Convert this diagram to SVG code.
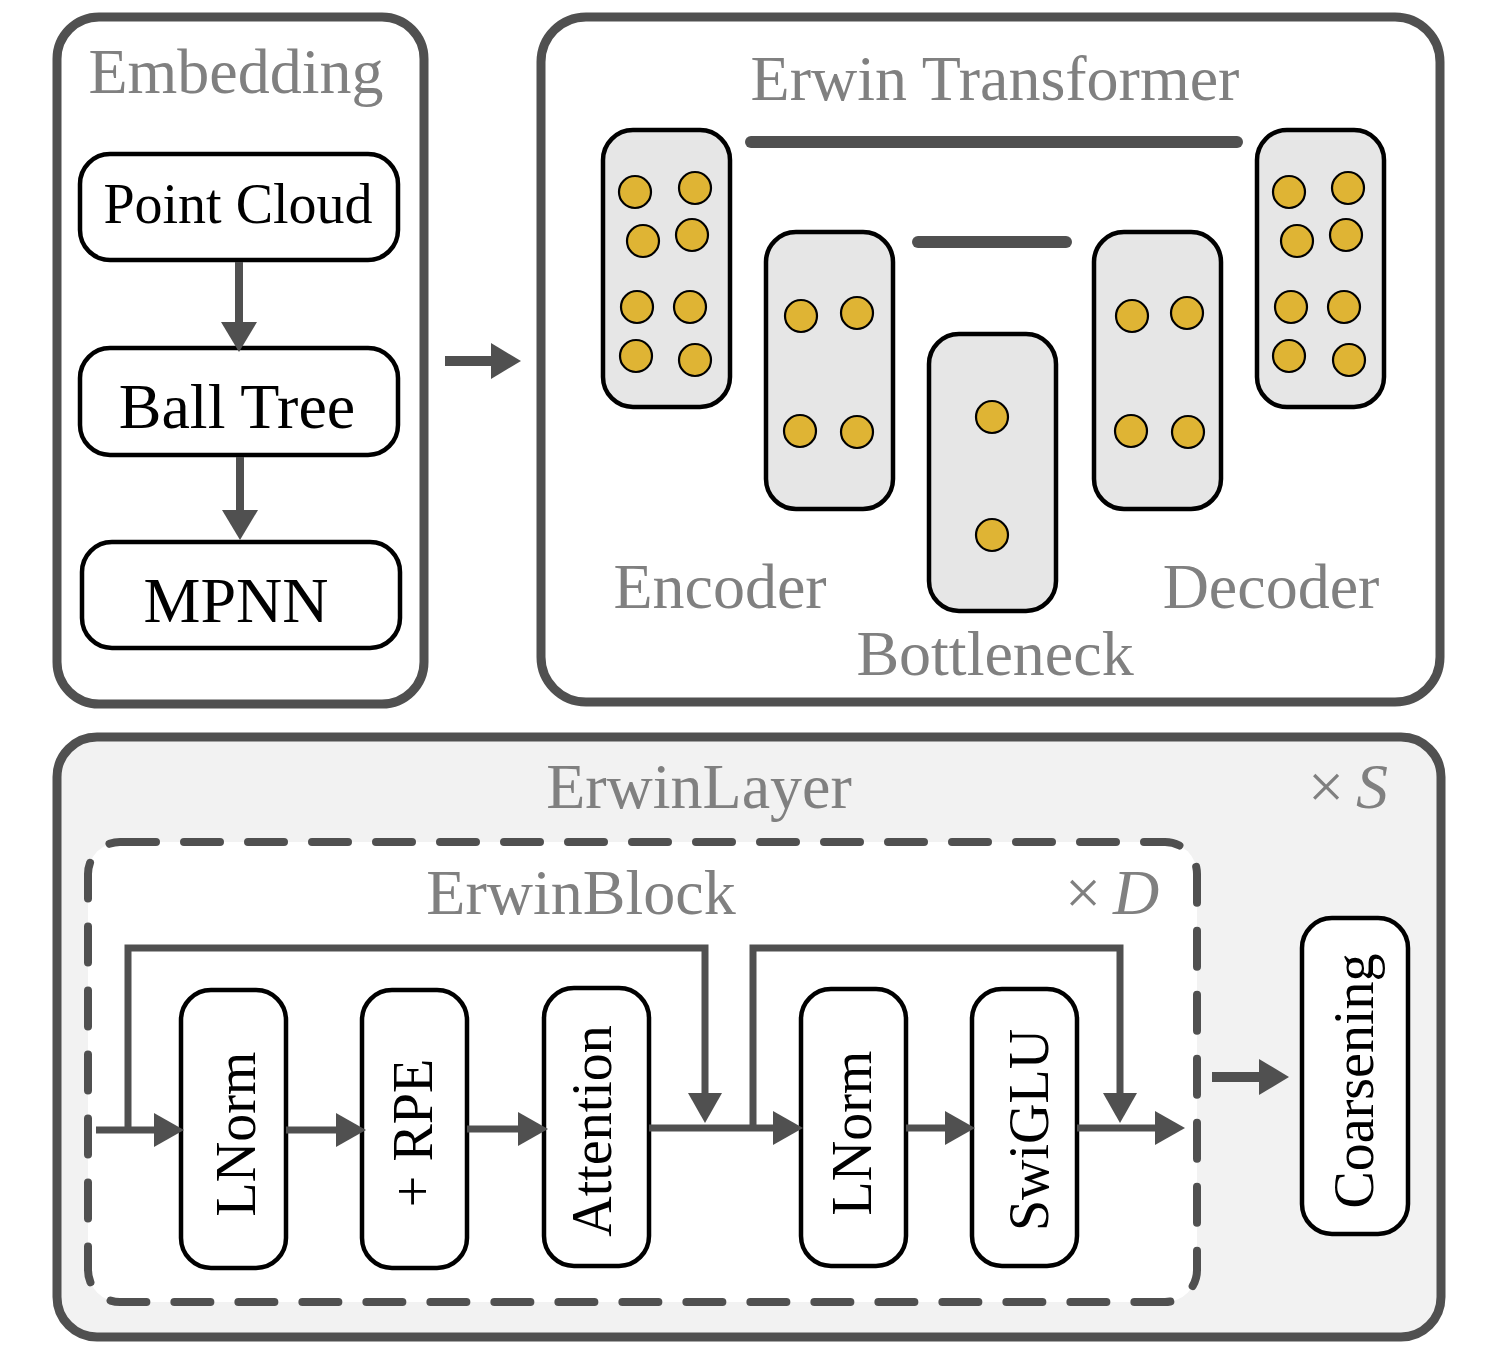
<svg xmlns="http://www.w3.org/2000/svg" width="1496" height="1354" viewBox="0 0 1496 1354">
<style>
.panel{fill:#fff;stroke:#505050;stroke-width:9}
.node{fill:#fff;stroke:#000;stroke-width:4.5}
.col{fill:#e6e6e6;stroke:#000;stroke-width:4.5}
.dot{fill:#dfb434;stroke:#000;stroke-width:2.2}
.bar{stroke:#505050;stroke-width:12;stroke-linecap:round}
text{font-family:'Liberation Serif','DejaVu Serif','Times New Roman',serif}
.g{fill:#808080;font-size:64px}
.k{fill:#000;font-size:56px}
.c{fill:none;stroke:#505050;stroke-width:7;stroke-linejoin:miter}
</style>
<defs>
<marker id="ah" markerUnits="userSpaceOnUse" viewBox="0 0 30 34" refX="1" refY="17" markerWidth="30" markerHeight="34" orient="auto">
<path d="M0,0 L30,17 L0,34 z" fill="#505050"/>
</marker>
<marker id="ahB" markerUnits="userSpaceOnUse" viewBox="0 0 30 36" refX="1" refY="18" markerWidth="30" markerHeight="36" orient="auto">
<path d="M0,0 L30,18 L0,36 z" fill="#505050"/>
</marker>
</defs>
<rect width="1496" height="1354" fill="#fff"/>

<g id="embedding">
<rect class="panel" x="57" y="17" width="367" height="687" rx="42"/>
<text class="g" x="236" y="93" text-anchor="middle" font-family="Liberation Serif, serif">Embedding</text>
</g>
<g id="point-cloud">
<rect class="node" x="80" y="154" width="318" height="106" rx="30"/>
<text class="k" x="238" y="223" text-anchor="middle" font-family="Liberation Serif, serif">Point Cloud</text>
</g>
<g id="ball-tree">
<rect class="node" x="80" y="348" width="318" height="107" rx="30"/>
<text class="k" x="237" y="428" text-anchor="middle" style="font-size:64px" font-family="Liberation Serif, serif">Ball Tree</text>
</g>
<g id="mpnn">
<rect class="node" x="82" y="542" width="318" height="106" rx="30"/>
<text class="k" x="236" y="622" text-anchor="middle" style="font-size:64px" font-family="Liberation Serif, serif">MPNN</text>
</g>

<g id="erwin-transformer">
<rect class="panel" x="541" y="17" width="899" height="685" rx="45"/>
<text class="g" x="995" y="100" text-anchor="middle" font-family="Liberation Serif, serif">Erwin Transformer</text>
<line class="bar" x1="751" y1="142" x2="1237" y2="142"/>
<line class="bar" x1="918" y1="242" x2="1066" y2="242"/>
<text class="g" x="720" y="608" text-anchor="middle" font-family="Liberation Serif, serif">Encoder</text>
<text class="g" x="1271" y="608" text-anchor="middle" font-family="Liberation Serif, serif">Decoder</text>
<text class="g" x="995" y="675" text-anchor="middle" font-family="Liberation Serif, serif">Bottleneck</text>
</g>
<g id="enc1">
<rect class="col" x="603" y="130" width="127" height="277" rx="30"/>
<circle class="dot" cx="635" cy="192" r="16"/><circle class="dot" cx="695" cy="188" r="16"/>
<circle class="dot" cx="643" cy="241" r="16"/><circle class="dot" cx="692" cy="235" r="16"/>
<circle class="dot" cx="637" cy="307" r="16"/><circle class="dot" cx="690" cy="307" r="16"/>
<circle class="dot" cx="636" cy="356" r="16"/><circle class="dot" cx="695" cy="360" r="16"/>
</g>
<g id="enc2">
<rect class="col" x="766" y="232" width="127" height="277" rx="30"/>
<circle class="dot" cx="801" cy="316" r="16"/><circle class="dot" cx="857" cy="313" r="16"/>
<circle class="dot" cx="800" cy="431" r="16"/><circle class="dot" cx="857" cy="432" r="16"/>
</g>
<g id="bottleneck">
<rect class="col" x="929" y="334" width="127" height="277" rx="30"/>
<circle class="dot" cx="992" cy="417" r="16"/><circle class="dot" cx="992" cy="535" r="16"/>
</g>
<g id="dec1">
<rect class="col" x="1094" y="232" width="127" height="277" rx="30"/>
<circle class="dot" cx="1132" cy="316" r="16"/><circle class="dot" cx="1187" cy="313" r="16"/>
<circle class="dot" cx="1131" cy="431" r="16"/><circle class="dot" cx="1188" cy="432" r="16"/>
</g>
<g id="dec2">
<rect class="col" x="1257" y="130" width="127" height="277" rx="30"/>
<circle class="dot" cx="1289" cy="192" r="16"/><circle class="dot" cx="1348" cy="188" r="16"/>
<circle class="dot" cx="1297" cy="241" r="16"/><circle class="dot" cx="1346" cy="235" r="16"/>
<circle class="dot" cx="1291" cy="307" r="16"/><circle class="dot" cx="1344" cy="307" r="16"/>
<circle class="dot" cx="1289" cy="356" r="16"/><circle class="dot" cx="1349" cy="360" r="16"/>
</g>

<g id="erwin-layer">
<rect x="57" y="737" width="1384" height="600" rx="40" fill="#f2f2f2" stroke="#505050" stroke-width="9"/>
<text class="g" x="699" y="808" text-anchor="middle" font-family="Liberation Serif, serif">ErwinLayer</text>
<text class="g" x="1308" y="808" font-family="Liberation Serif, serif">×<tspan dx="12" font-style="italic">S</tspan></text>
</g>
<g id="erwin-block">
<rect x="88" y="842" width="1109" height="460" rx="32" fill="#fff" stroke="#505050" stroke-width="8" stroke-dasharray="36 28" stroke-linecap="round"/>
<text class="g" x="581" y="914" text-anchor="middle" font-family="Liberation Serif, serif">ErwinBlock</text>
<text class="g" x="1065" y="914" font-family="Liberation Serif, serif">×<tspan dx="12" font-style="italic">D</tspan></text>
</g>
<g id="lnorm1">
<rect class="node" x="181" y="990" width="105" height="278" rx="30"/>
<text class="k" transform="translate(255,1134) rotate(-90)" text-anchor="middle" font-family="Liberation Serif, serif">LNorm</text>
</g>
<g id="rpe">
<rect class="node" x="362" y="990" width="105" height="278" rx="30"/>
<text class="k" transform="translate(432,1133) rotate(-90)" text-anchor="middle" font-family="Liberation Serif, serif">+ RPE</text>
</g>
<g id="attention">
<rect class="node" x="544" y="988" width="105" height="278" rx="30"/>
<text class="k" transform="translate(611,1131) rotate(-90)" text-anchor="middle" font-family="Liberation Serif, serif">Attention</text>
</g>
<g id="lnorm2">
<rect class="node" x="801" y="989" width="105" height="277" rx="30"/>
<text class="k" transform="translate(871,1133) rotate(-90)" text-anchor="middle" font-family="Liberation Serif, serif">LNorm</text>
</g>
<g id="swiglu">
<rect class="node" x="972" y="989" width="105" height="277" rx="30"/>
<text class="k" transform="translate(1048,1130) rotate(-90)" text-anchor="middle" font-family="Liberation Serif, serif">SwiGLU</text>
</g>
<g id="coarsening">
<rect class="node" x="1302" y="918" width="106" height="316" rx="30"/>
<text class="k" transform="translate(1373,1081) rotate(-90)" text-anchor="middle" font-family="Liberation Serif, serif">Coarsening</text>
</g>

<g id="connectors">
<path class="c" style="stroke-width:8" d="M239,262 V323" marker-end="url(#ahB)"/>
<path class="c" style="stroke-width:8" d="M240,457 V511" marker-end="url(#ahB)"/>
<path class="c" style="stroke-width:10" d="M445,361 H492" marker-end="url(#ahB)"/>
<path class="c" d="M96,1130 H155" marker-end="url(#ah)"/>
<path class="c" d="M128,1130 V948 H705 V1094" marker-end="url(#ah)"/>
<path class="c" d="M286,1130 H337" marker-end="url(#ah)"/>
<path class="c" d="M467,1129 H519" marker-end="url(#ah)"/>
<path class="c" d="M649,1128 H774" marker-end="url(#ah)"/>
<path class="c" d="M753,1128 V948 H1120 V1094" marker-end="url(#ah)"/>
<path class="c" d="M906,1128 H946" marker-end="url(#ah)"/>
<path class="c" d="M1077,1128 H1156" marker-end="url(#ah)"/>
<path class="c" style="stroke-width:10" d="M1212,1077 H1260" marker-end="url(#ahB)"/>
</g>
</svg>
